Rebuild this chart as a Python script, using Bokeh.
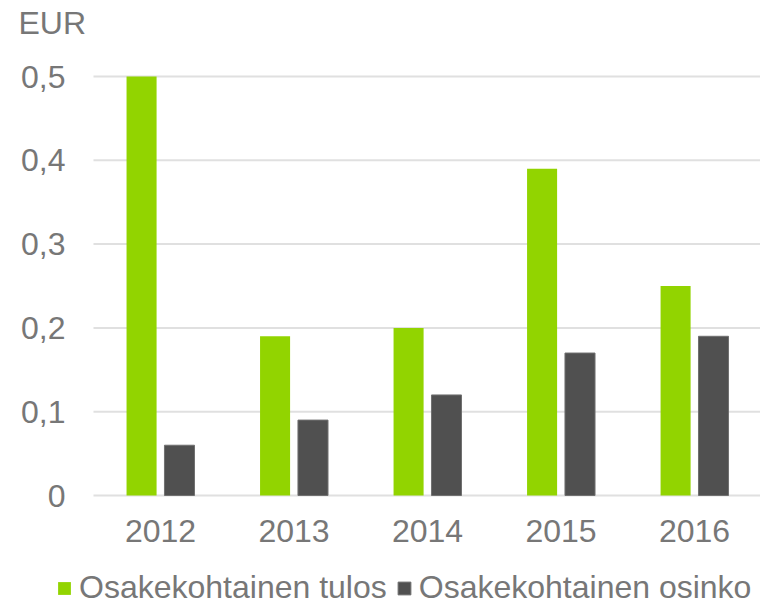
import numpy as np
from bokeh.plotting import figure
from bokeh.models import Legend, LegendItem, Label
from bokeh.embed import file_html
from bokeh.resources import INLINE

years = ["2012", "2013", "2014", "2015", "2016"]
tulos = [0.50, 0.19, 0.20, 0.39, 0.25]
osinko = [0.06, 0.09, 0.12, 0.17, 0.19]
y_ticks = [0, 0.1, 0.2, 0.3, 0.4, 0.5]
y_tick_labels = ["0", "0,1", "0,2", "0,3", "0,4", "0,5"]
series_names = ["Osakekohtainen tulos", "Osakekohtainen osinko"]
unit_label = "EUR"

GREEN = "#92D400"
DARK = "#505050"
DARK_EDGE = "#707070"
GRID = "#e0e0e0"
TEXT = "#777777"
FONT = "Liberation Sans"
FS = "32px"

idx = np.arange(len(years))
offset = 0.142
bw = 0.225

# plotting area: categories span x_lo..x_hi, values 0..0.5
x_lo, x_hi = -0.502, 4.494

p = figure(width=760, height=606, output_backend="svg", toolbar_location=None,
           x_range=(-1.1986, x_hi), y_range=(-0.13246, 0.5907),
           x_axis_type=None, y_axis_type=None,
           min_border_left=0, min_border_right=0, min_border_top=0, min_border_bottom=0)
p.outline_line_color = None
p.xgrid.grid_line_color = None
p.ygrid.grid_line_color = None

# horizontal gridlines at the value ticks
p.segment(x0=x_lo, x1=x_hi, y0=y_ticks, y1=y_ticks, line_color=GRID, line_width=2)

r1 = p.vbar(x=idx - offset, top=tulos, width=bw, bottom=0, fill_color=GREEN, line_color=None)
r2 = p.vbar(x=idx + offset, top=osinko, width=bw, bottom=0, fill_color=DARK,
            line_color=DARK_EDGE, line_width=1)

# value axis labels
p.text(x=x_lo, y=y_ticks, text=y_tick_labels, x_offset=-28,
       text_align="right", text_baseline="middle",
       text_font={"value": FONT}, text_font_size={"value": FS}, text_color=TEXT)

# category axis labels
p.text(x=idx, y=0, text=years, y_offset=35,
       text_align="center", text_baseline="alphabetic",
       text_font={"value": FONT}, text_font_size={"value": FS}, text_color=TEXT)

# unit label
p.add_layout(Label(x=-1.0638, y=0.5644, text=unit_label, text_font=FONT, text_font_size=FS,
                   text_color=TEXT, text_baseline="alphabetic"))

legend = Legend(items=[LegendItem(label=series_names[0], renderers=[r1]),
                       LegendItem(label=series_names[1], renderers=[r2])],
                orientation="horizontal", location=(56, 0),
                glyph_width=16, glyph_height=16, label_standoff=7, spacing=9,
                padding=0, margin=0, border_line_color=None, background_fill_alpha=0,
                label_text_font=FONT, label_text_font_size=FS, label_text_color=TEXT)
p.add_layout(legend, "center")

open("out.html", "w").write(file_html(p, INLINE))
